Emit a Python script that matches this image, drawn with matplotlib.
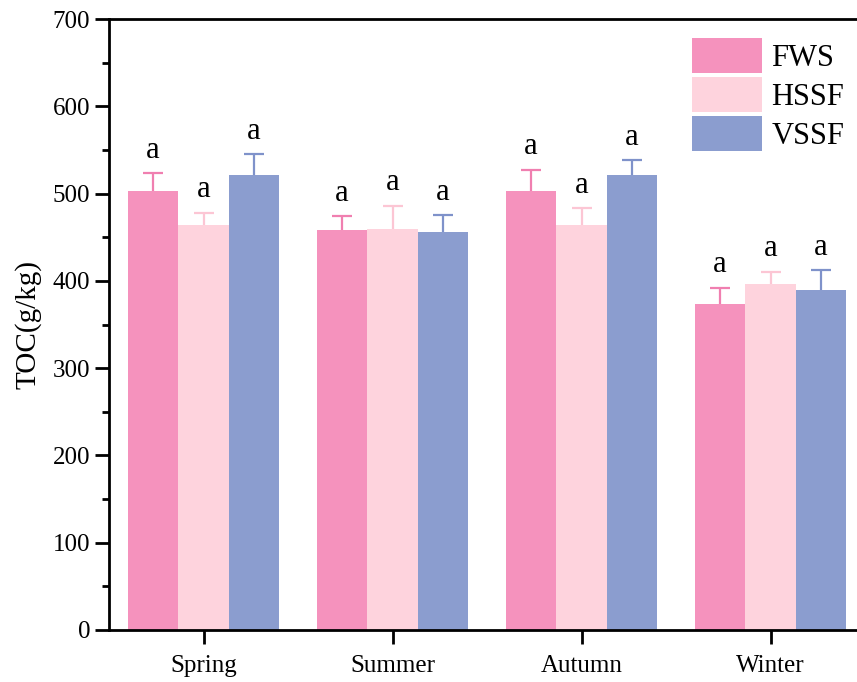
import matplotlib
matplotlib.use('Agg')
import matplotlib.pyplot as plt
import numpy as np
from matplotlib.ticker import MultipleLocator

plt.rcParams['font.family'] = ['Liberation Serif', 'DejaVu Serif']

# Data
seasons = ['Spring', 'Summer', 'Autumn', 'Winter']
groups = ['FWS', 'HSSF', 'VSSF']
fws = [503, 458, 503, 373]
hssf = [464, 459, 464, 396]
vssf = [521, 456, 521, 390]
fws_err = [20, 16, 24, 19]
hssf_err = [14, 27, 19, 14]
vssf_err = [24, 19, 17, 22]
letters = ['a', 'a', 'a', 'a']

colors = ['#F592BD', '#FED3DD', '#8B9DCF']
err_colors = ['#F07FB0', '#FCC6D4', '#7F92CA']

fig = plt.figure(figsize=(8.57, 6.82), dpi=100)
ax = fig.add_axes([109 / 857, 52 / 682, 756 / 857, 611 / 682])

x = np.arange(len(seasons))
width = 0.267
series = [fws, hssf, vssf]
errs = [fws_err, hssf_err, vssf_err]

for i, (vals, err) in enumerate(zip(series, errs)):
    pos = x + (i - 1) * width
    ax.bar(pos, vals, width, color=colors[i], label=groups[i], linewidth=0, zorder=2)
    eb = ax.errorbar(pos, vals, yerr=[np.zeros(len(vals)), err], fmt='none',
                     ecolor=err_colors[i], elinewidth=1.6, capsize=7, capthick=1.6, zorder=1)
    # only the upper cap
    eb[1][0].set_visible(False)
    for p, v, e, t in zip(pos, vals, err, letters):
        ax.text(p, v + e + 10, t, ha='center', va='bottom', fontsize=22)

ax.set_xlim(-0.5, 3.5)
ax.set_ylim(0, 700)
ax.set_xticks(x)
ax.set_xticklabels(seasons, fontsize=18)
ax.yaxis.set_major_locator(MultipleLocator(100))
ax.yaxis.set_minor_locator(MultipleLocator(50))
ax.tick_params(axis='y', which='major', labelsize=18, length=10, width=2, direction='out')
ax.tick_params(axis='y', which='minor', length=5, width=2, direction='out')
ax.tick_params(axis='x', which='major', length=10, width=2, direction='out', pad=8)
ax.set_ylabel('TOC(g/kg)', fontsize=21, labelpad=8)

for s in ['left', 'bottom', 'top']:
    ax.spines[s].set_linewidth(2)
ax.spines['right'].set_visible(False)

ax.legend(loc='upper left', bbox_to_anchor=(692 / 857, 1 - 38 / 682),
          bbox_transform=fig.transFigure, frameon=False, fontsize=22,
          handlelength=2.3, handleheight=1.4, labelspacing=0.12,
          handletextpad=0.3, borderpad=0, borderaxespad=0)

fig.savefig('out.png', dpi=100)
